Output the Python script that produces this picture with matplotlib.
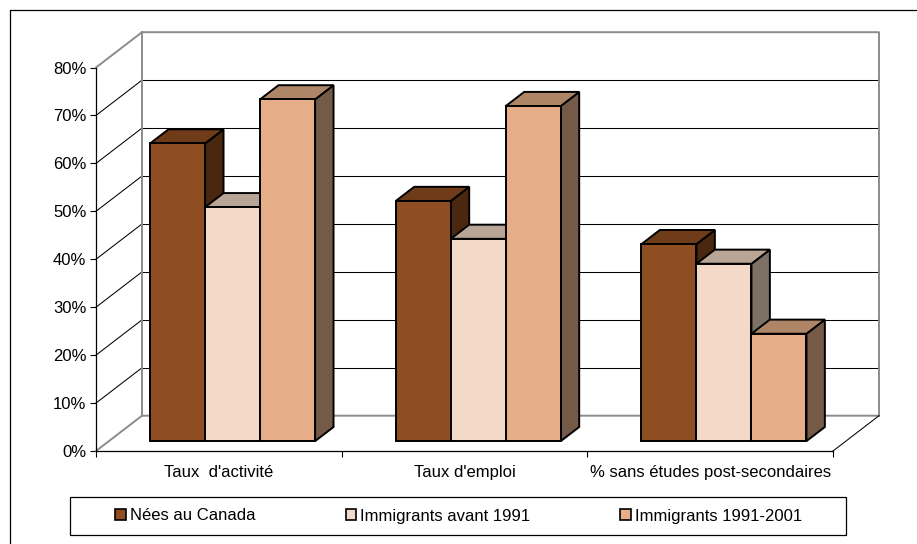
import numpy as np
import matplotlib
matplotlib.use('Agg')
import matplotlib.pyplot as plt
from matplotlib.patches import Patch, Rectangle
from matplotlib.lines import Line2D
from matplotlib.ticker import PercentFormatter

plt.rcParams['font.family'] = ['Liberation Sans', 'DejaVu Sans']

# Datos
categorias = ["Taux  d'activité", "Taux d'emploi", "% sans études post-secondaires"]
series = ["Nées au Canada", "Immigrants avant 1991", "Immigrants 1991-2001"]
nees = [62.1, 50.1, 41.1]
avant_1991 = [48.8, 42.2, 37.0]
recents = [71.3, 69.9, 22.4]
valores = [nees, avant_1991, recents]

# Colores: frente, arriba, lado
frente = ['#8F4E21', '#F2D9C8', '#E5AD88']
arriba = ['#6F3B18', '#B8A595', '#AE8567']
lado = ['#4A2810', '#7D7165', '#755A48']
gris = '#8C8C8C'

W, H = 917, 544
fig = plt.figure(figsize=(W / 100, H / 100), dpi=100)
ax = fig.add_axes([96 / W, (H - 451) / H, 737 / W, 383.5 / H])
ax.set_xlim(0, 3)
ax.set_ylim(0, 80)
ax.patch.set_visible(False)

# Profundidad de la caja en unidades de datos (46 px, 35.3 px)
px_x = 3 / 737
px_y = 80 / 383.5
dx = 46 * px_x
dy = 35.3 * px_y


def linea(xs, ys, color='black', lw=0.75, z=1):
    ax.add_line(Line2D(xs, ys, color=color, lw=lw, zorder=z, clip_on=False))


# Paredes y rejilla
for v in range(10, 80, 10):
    linea([0, dx], [v, v + dy])
    linea([dx, 3 + dx], [v + dy, v + dy])
linea([0, dx, 3 + dx, 3 + dx], [80, 80 + dy, 80 + dy, dy], color=gris, lw=1.4, z=2)
linea([dx, dx], [dy, 80 + dy], color=gris, lw=1.4, z=2)
linea([0, dx, 3 + dx], [0, dy, dy], color=gris, lw=1.4, z=2)
linea([3, 3 + dx], [0, dy], z=2)

# Barras en 3D, de izquierda a derecha
f0, f1 = 0.3, 0.7
ancho = 55 * px_x
x0 = np.arange(3) + 0.5 + f0 * dx
base = f0 * dy - 0.7 * px_y
ddx = (f1 - f0) * dx
ddy = (f1 - f0) * dy
borde = dict(edgecolor='black', linewidth=1.4, joinstyle='miter', clip_on=False)

for k, centro in enumerate(x0):
    for s in range(3):
        izq = centro + (s - 1.5) * ancho
        der = izq + ancho
        v = valores[s][k]
        tope = base + v
        ax.fill([der, der + ddx, der + ddx, der],
                [base, base + ddy, tope + ddy, tope],
                facecolor=lado[s], zorder=3, **borde)
        ax.fill([izq, der, der + ddx, izq + ddx],
                [tope, tope, tope + ddy, tope + ddy],
                facecolor=arriba[s], zorder=3, **borde)
        ax.bar(izq, v, ancho, bottom=base, align='edge',
               facecolor=frente[s], zorder=3, **borde)

# Ejes
for lado_eje in ['top', 'right']:
    ax.spines[lado_eje].set_visible(False)
for lado_eje in ['left', 'bottom']:
    ax.spines[lado_eje].set_linewidth(0.9)
    ax.spines[lado_eje].set_zorder(4)

ax.set_yticks(range(0, 90, 10))
ax.yaxis.set_major_formatter(PercentFormatter(decimals=0))
ax.set_xticks([0, 1, 2, 3])
ax.set_xticklabels([])
ax.set_xticks([0.5, 1.5, 2.5], minor=True)
ax.set_xticklabels(categorias, minor=True)
ax.tick_params(axis='y', length=4.5, width=0.8, pad=2.5, labelsize=12)
ax.tick_params(axis='x', which='major', length=4.5, width=0.8)
ax.tick_params(axis='x', which='minor', length=0, pad=10, labelsize=12)

# Marco exterior (solo arriba e izquierda)
fig.add_artist(Line2D([9.5 / W, 9.5 / W, 1], [0, 1 - 9.5 / H, 1 - 9.5 / H],
                      color='black', lw=0.9, transform=fig.transFigure))

# Leyenda
fig.add_artist(Rectangle((69.5 / W, 1 - 535 / H), 776 / W, 38 / H, facecolor='white',
                         edgecolor='black', lw=0.9, transform=fig.transFigure))
handles = [Patch(facecolor=frente[i], edgecolor='black', lw=1.2, label=series[i]) for i in range(3)]
fig.legend(handles=handles, ncol=3, frameon=False, loc='center left',
           bbox_to_anchor=(115.5 / W, 1 - 516 / H), borderaxespad=0, borderpad=0,
           fontsize=12, handlelength=0.65, handleheight=0.65, handletextpad=0.22,
           columnspacing=5.4)

fig.savefig('out.png', dpi=100)
